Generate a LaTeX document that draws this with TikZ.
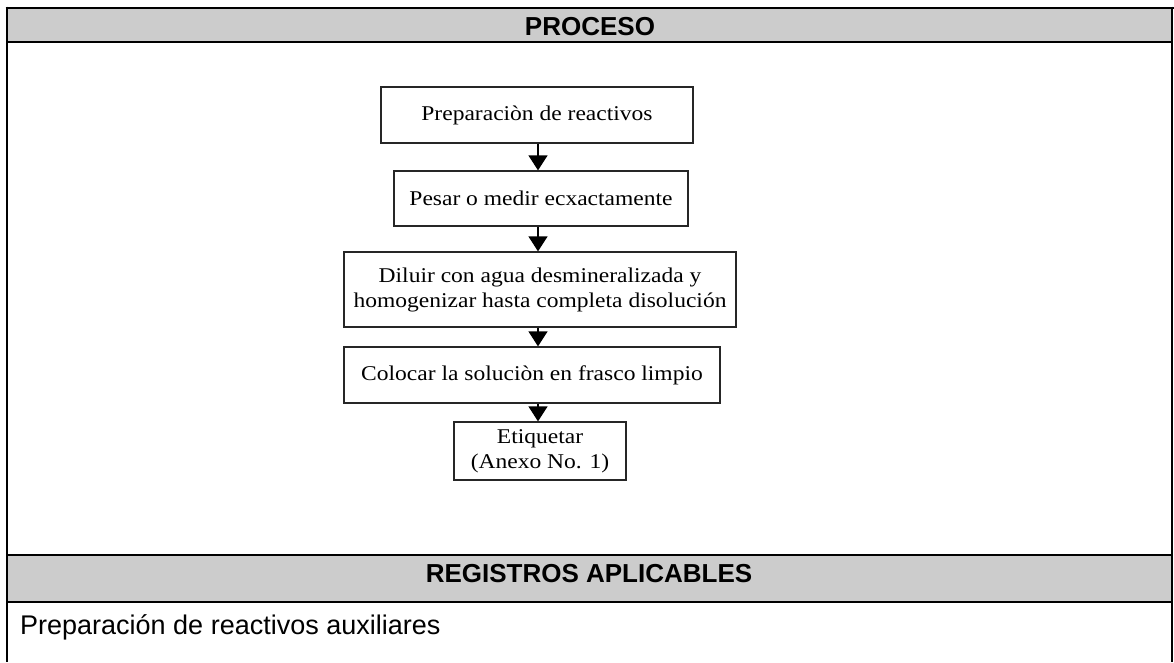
\documentclass[tikz,border=0pt]{standalone}
\usepackage{fontspec}
\setmainfont{Liberation Serif}
\newfontfamily\boxfont[FakeStretch=1.12]{Liberation Serif}
\newfontfamily\hdrfont{Liberation Sans}
\usetikzlibrary{arrows.meta}
\definecolor{bandgray}{RGB}{204,204,204}
\begin{document}
\begin{tikzpicture}[x=1pt,y=-1pt,
  stepbox/.style={draw=black!85, line width=1.3pt, inner sep=0pt, align=center,
    font=\boxfont\fontsize{21}{25}\selectfont},
  flow/.style={line width=1.3pt, -{Triangle[width=19pt,length=15pt]}},
  frameline/.style={line width=2.6pt},
  sideline/.style={line width=2.2pt},
  bandtext/.style={font=\hdrfont\bfseries\fontsize{26}{30}\selectfont, inner sep=0pt},
  bodytext/.style={font=\hdrfont\fontsize{27}{32}\selectfont, inner sep=0pt}]
\useasboundingbox (0,0) rectangle (1174,662);

% grey title bands
\fill[bandgray] (7,8) rectangle (1172,42);
\fill[bandgray] (7,555) rectangle (1172,602);

% table rules
\draw[frameline] (5.7,8) -- (1174,8);
\draw[frameline] (7,42) -- (1172,42);
\draw[frameline] (7,555) -- (1172,555);
\draw[frameline] (7,602) -- (1172,602);
\draw[sideline] (7,6.7) -- (7,662);
\draw[frameline] (1172,6.7) -- (1172,662);

% band titles and record text
\node[bandtext, anchor=base] (tproc) at (590,35) {PROCESO};
\node[bandtext, anchor=base] (treg) at (589,582) {REGISTROS APLICABLES};
\node[bodytext, anchor=base west] (rec) at (20,634) {Preparación de reactivos auxiliares};

% process steps
\node[stepbox, minimum width=312pt, minimum height=56pt] (b1) at (537,115)
  {Preparaciòn de reactivos};
\node[stepbox, minimum width=294pt, minimum height=55pt] (b2) at (541,198.5)
  {Pesar o medir ecxactamente};
\node[stepbox, minimum width=392pt, minimum height=75pt] (b3) at (540,289.5)
  {Diluir con agua desmineralizada y\\homogenizar hasta completa disolución};
\node[stepbox, minimum width=376pt, minimum height=56pt] (b4) at (532,375)
  {Colocar la soluciòn en frasco limpio};
\node[stepbox, minimum width=172pt, minimum height=58pt] (b5) at (540,451)
  {Etiquetar\\(Anexo No. 1)};

% flow axis
\coordinate (ax) at (538,0);
\draw[flow] (b1.south -| ax) -- (b2.north -| ax);
\draw[flow] (b2.south -| ax) -- (b3.north -| ax);
\draw[flow] (b3.south -| ax) -- (b4.north -| ax);
\draw[flow] (b4.south -| ax) -- (b5.north -| ax);
\end{tikzpicture}
\end{document}
